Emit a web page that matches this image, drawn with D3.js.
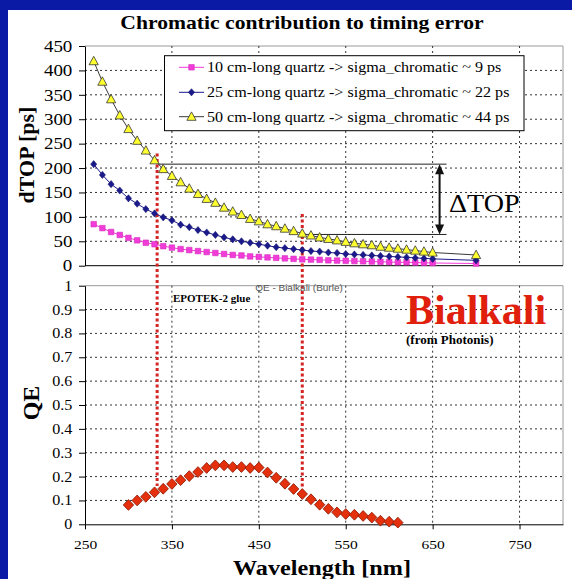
<!DOCTYPE html>
<html><head><meta charset="utf-8">
<script src="https://cdn.jsdelivr.net/npm/d3@7"></script>
<style>body{margin:0;background:#0a1aa4;} svg{display:block}</style>
</head><body><svg id="c" width="572" height="579"></svg>
<script>
// ---- data ----
const wavelengths = [260,270,280,290,300,310,320,330,340,350,360,370,380,390,400,410,420,430,440,450,460,470,480,490,500,510,520,530,540,550,560,570,580,590,600,610,620,630,640,650,700];
const quartz10 = [85,77,69,63,57,52,47,44,40,37,34,32,30,28,26,24,22,21,19,18,17,16,15,14,13,12.5,12,11,10.5,10,9.5,9,8.5,8,7.5,7,7,6.5,6,5.5,4.5];
const quartz25 = [208,186,167,154,138,127,116,107,99,93,84,79,73,68,63,58,54,50,47,44,41,38,36,34,32,30,29,27,26,24,23,22,21,20,19,18,17,16,15,14,11];
const quartz50 = [419,377,341,308,280,256,236,216,198,184,171,158,147,137,129,119,111,104,96,91,85,81,76,71,66,62,58,55,52,49,46,44,42,39,37,35,33,31,29,27,22];
const qeWavelengths = [300,310,320,330,340,350,360,370,380,390,400,410,420,430,440,450,460,470,480,490,500,510,520,530,540,550,560,570,580,590,600,610];
const qeValues = [0.081,0.100,0.115,0.134,0.149,0.169,0.185,0.202,0.219,0.236,0.247,0.247,0.240,0.240,0.236,0.238,0.217,0.195,0.170,0.148,0.127,0.105,0.082,0.065,0.050,0.043,0.040,0.035,0.028,0.015,0.011,0.007];
const dtopTicks = [0,50,100,150,200,250,300,350,400,450];
const qeTicks = [0,0.1,0.2,0.3,0.4,0.5,0.6,0.7,0.8,0.9,1];
const xTicks = [250,350,450,550,650,750];
const legendLabels = ["10 cm-long quartz -> sigma_chromatic ~ 9 ps","25 cm-long quartz -> sigma_chromatic ~ 22 ps","50 cm-long quartz -> sigma_chromatic ~ 44 ps"];
const glueCuts = [333, 500];          // red dotted wavelength cuts (nm)
const glueTopValues = [230, 106];     // dTOP level where each cut line starts (ps)
const glueBottomQE = [0.16, 0.15];    // QE level where each cut line ends
const deltaTop = [208, 64];           // ΔTOP bracket levels (ps)
const deltaTopX = [335, 500, 666, 658]; // bracket start upper, start lower, end, arrow (nm)

// ---- setup ----
const svg = d3.select("#c");
const SERIF = "'Liberation Serif','Times New Roman',serif";
const SANS = "'Liberation Sans',Arial,sans-serif";
const SX = 1.15;

svg.append("rect").attr("x",8).attr("y",10).attr("width",564).attr("height",569).attr("fill","#fff");

const x = d3.scaleLinear().domain([250,800]).range([85,563]);
const yT = d3.scaleLinear().domain([0,450]).range([265.7,46]);
const yB = d3.scaleLinear().domain([0,1]).range([524.3,285.7]);

function txt(g, px, py, s, o){
  return g.append("text")
    .attr("transform", o.rot ? `translate(${px},${py}) rotate(-90)` : `translate(${px},${py}) scale(${o.sx||1},1)`)
    .attr("font-family", o.family||SERIF).attr("font-size", o.size)
    .attr("font-weight", o.weight||"normal").attr("text-anchor", o.anchor||"start")
    .attr("fill", o.fill||"#000").text(s);
}

// ---- frames & grids ----
function panel(yScale, ticks, top, bottom){
  const g = svg.append("g");
  g.append("line").attr("x1",85).attr("x2",563).attr("y1",top).attr("y2",top).attr("stroke","#9a9a9a");
  g.append("line").attr("x1",563).attr("x2",563).attr("y1",top).attr("y2",bottom).attr("stroke","#9a9a9a");
  ticks.slice(1,-1).forEach(t=>{
    g.append("line").attr("x1",85).attr("x2",563).attr("y1",yScale(t)).attr("y2",yScale(t))
      .attr("stroke","#333").attr("stroke-width",1).attr("stroke-dasharray","2,3");
  });
  xTicks.slice(1).forEach(t=>{
    g.append("line").attr("x1",x(t)).attr("x2",x(t)).attr("y1",top).attr("y2",bottom)
      .attr("stroke","#333").attr("stroke-width",1).attr("stroke-dasharray","2,3");
  });
}
panel(yT, dtopTicks, yT(450), yT(0));
panel(yB, qeTicks, yB(1), yB(0));

// axes
function leftAxis(scale, ticks, fmt, size){
  const g = svg.append("g").attr("transform","translate(85,0)")
    .call(d3.axisLeft(scale).tickValues(ticks).tickFormat(fmt).tickSizeInner(6).tickSizeOuter(0).tickPadding(5));
  g.select(".domain").attr("stroke","#000");
  g.selectAll(".tick line").attr("stroke","#000");
  g.selectAll(".tick text").attr("font-family",SERIF).attr("font-size",size).attr("fill","#000")
    .attr("transform",`scale(${SX},1)`);
}
leftAxis(yT, dtopTicks, d3.format("d"), 16.5);
leftAxis(yB, qeTicks, d=>d===0||d===1?String(d):d3.format(".1f")(d), 14);

svg.append("line").attr("x1",85).attr("x2",563).attr("y1",yT(0)).attr("y2",yT(0)).attr("stroke","#000");
const xa = svg.append("g").attr("transform",`translate(0,${yB(0)})`)
  .call(d3.axisBottom(x).tickValues(xTicks).tickFormat(d3.format("d")).tickSizeInner(5).tickSizeOuter(0).tickPadding(0));
xa.select(".domain").attr("stroke","#000");
xa.selectAll(".tick line").attr("stroke","#000");
xa.selectAll(".tick text").attr("font-family",SERIF).attr("font-size",13.5).attr("fill","#000")
  .attr("y",20).attr("dy","0.32em").attr("transform",`scale(${SX},1)`);

// ---- red dotted glue cut lines ----
glueCuts.forEach((w,i)=>{
  svg.append("line").attr("x1",x(w)).attr("x2",x(w))
    .attr("y1",yT(glueTopValues[i])).attr("y2",yB(glueBottomQE[i]))
    .attr("stroke","#d42424").attr("stroke-width",3).attr("stroke-dasharray","3,2.5");
});

// ---- ΔTOP bracket ----
svg.append("line").attr("x1",x(deltaTopX[0])).attr("x2",x(deltaTopX[2])).attr("y1",yT(deltaTop[0])).attr("y2",yT(deltaTop[0])).attr("stroke","#222");
svg.append("line").attr("x1",x(deltaTopX[1])).attr("x2",x(deltaTopX[2])).attr("y1",yT(deltaTop[1])).attr("y2",yT(deltaTop[1])).attr("stroke","#222");
const ax = x(deltaTopX[3]), ay1 = yT(deltaTop[0]), ay2 = yT(deltaTop[1]);
svg.append("line").attr("x1",ax).attr("x2",ax).attr("y1",ay1+8).attr("y2",ay2-8).attr("stroke","#111").attr("stroke-width",2);
svg.append("path").attr("d",`M${ax},${ay1} L${ax+4.5},${ay1+10} L${ax-4.5},${ay1+10}Z`).attr("fill","#111");
svg.append("path").attr("d",`M${ax},${ay2} L${ax+4.5},${ay2-10} L${ax-4.5},${ay2-10}Z`).attr("fill","#111");
txt(svg, 449, 211.5, "ΔTOP", {size:26, sx:1.08});

// ---- series ----
const sq = "M-2.8,-2.8H2.8V2.8H-2.8Z";
const dia = "M0,-3.6L3.1,0L0,3.6L-3.1,0Z";
const tri = "M0,-4.8L4.6,3.6L-4.6,3.6Z";
const series = [
  {vals: quartz10, line:"#f23cd8", fill:"#f23cd8", stroke:"#d020b8", path:sq, sw:0.5},
  {vals: quartz25, line:"#1a1a8a", fill:"#1a1a8a", stroke:"#10106a", path:dia, sw:0.5},
  {vals: quartz50, line:"#3a3a3a", fill:"#ffff30", stroke:"#333", path:tri, sw:0.8}
];
series.forEach(s=>{
  const pts = wavelengths.map((w,i)=>[w,s.vals[i]]);
  svg.append("path").attr("d", d3.line().x(d=>x(d[0])).y(d=>yT(d[1]))(pts))
    .attr("fill","none").attr("stroke",s.line).attr("stroke-width",1);
  svg.append("g").selectAll("path").data(pts).join("path")
    .attr("transform",d=>`translate(${x(d[0])},${yT(d[1])})`).attr("d",s.path)
    .attr("fill",s.fill).attr("stroke",s.stroke).attr("stroke-width",s.sw);
});

// QE markers
svg.append("g").selectAll("path").data(qeWavelengths.map((w,i)=>[w,qeValues[i]])).join("path")
  .attr("transform",d=>`translate(${x(d[0])},${yB(d[1])})`).attr("d","M0,-5.4L5.2,0L0,5.4L-5.2,0Z")
  .attr("fill","#e4300c").attr("stroke","#8a1400").attr("stroke-width",0.8);

// ---- legend ----
const lg = svg.append("g");
lg.append("rect").attr("x",164.5).attr("y",55.7).attr("width",359.5).attr("height",75).attr("fill","#fff").attr("stroke","#000");
const rows = [67.3, 92.3, 116.7];
series.forEach((s,i)=>{
  lg.append("line").attr("x1",179).attr("x2",204).attr("y1",rows[i]).attr("y2",rows[i]).attr("stroke",s.line);
  lg.append("path").attr("transform",`translate(191.5,${rows[i]})`).attr("d",s.path)
    .attr("fill",s.fill).attr("stroke",s.stroke).attr("stroke-width",s.sw);
  txt(lg, 207, rows[i]+5, legendLabels[i], {size:14, sx:SX});
});

// ---- texts ----
txt(svg, 302, 29, "Chromatic contribution to timing error", {size:18.5, weight:"bold", anchor:"middle", sx:1.17});
txt(svg, 34, 155, "dTOP [ps]", {size:22, weight:"bold", anchor:"middle", rot:true});
txt(svg, 39, 403, "QE", {size:24, weight:"bold", anchor:"middle", rot:true});
txt(svg, 322, 575, "Wavelength [nm]", {size:22, weight:"bold", anchor:"middle", sx:1.1});
txt(svg, 299, 291, "QE - Bialkali (Burle)", {size:9.5, family:SANS, anchor:"middle", fill:"#555", sx:1.05});
txt(svg, 173, 301.5, "EPOTEK-2 glue", {size:11, weight:"bold"});
txt(svg, 406, 324, "Bialkali", {size:42, weight:"bold", fill:"#e0200c"});
txt(svg, 406, 344, "(from Photonis)", {size:12.5, weight:"bold", sx:1.04});
</script></body></html>
